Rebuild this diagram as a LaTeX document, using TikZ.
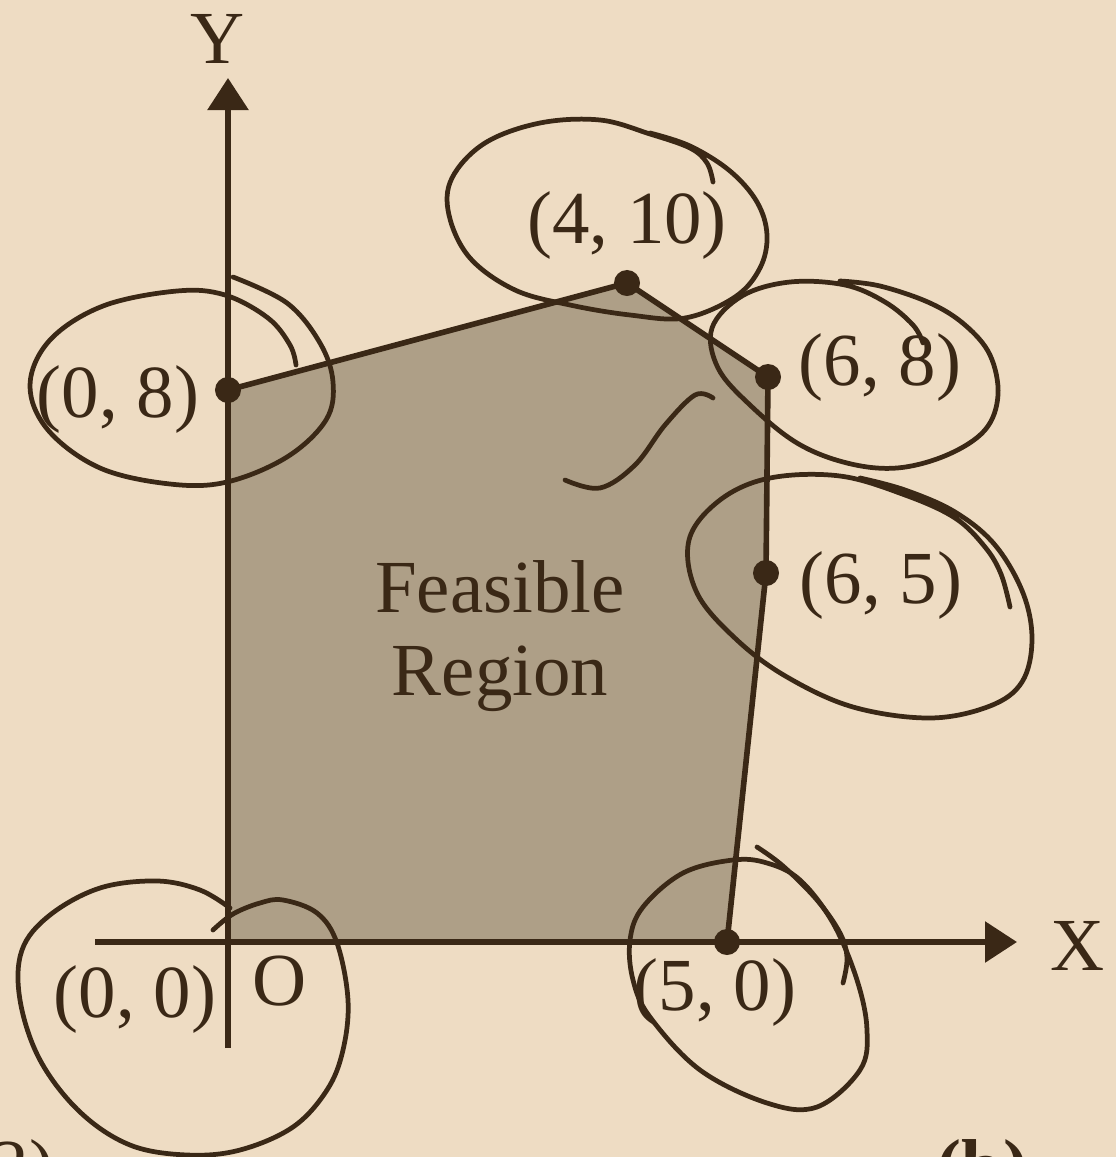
\documentclass[tikz,border=0pt]{standalone}
\usepackage{fontspec}
\setmainfont{Liberation Serif}
\usetikzlibrary{arrows.meta}
\definecolor{bg}{HTML}{EEDCC3}
\definecolor{regionfill}{HTML}{AE9F87}
\definecolor{ink}{HTML}{3A2816}
\tikzset{
  axisline/.style={ink, line width=1.6pt, -{Triangle[length=9.1pt,width=11.4pt]}},
  edgeline/.style={ink, line width=1.6pt, line join=round},
  penstroke/.style={ink, line width=1.35pt, line cap=round, line join=round},
  vertexdot/.style={circle, fill=ink, inner sep=0pt, minimum size=0.26cm},
  lbl/.style={text=ink, inner sep=0pt, font=\fontsize{21.3}{25}\selectfont},
}
\begin{document}
\begin{tikzpicture}[x=0.01cm, y=-0.01cm]
\useasboundingbox (0,0) rectangle (1116,1157);
\fill[bg] (0,0) rectangle (1116,1157);

% vertices
\coordinate (p00) at (228,942);
\coordinate (p08) at (228,390);
\coordinate (p410) at (627,283);
\coordinate (p68) at (768,377);
\coordinate (p65) at (766,573);
\coordinate (p50) at (727,942);

% feasible region
\fill[regionfill] (p00) -- (p08) -- (p410) -- (p68) -- (p65) -- (p50) -- cycle;

% axes
\coordinate (ybot) at (228,1048);
\coordinate (ytop) at (228,78);
\coordinate (xleft) at (95,942);
\coordinate (xright) at (1017,942);
\draw[axisline] (ybot) -- (ytop);
\draw[axisline] (xleft) -- (xright);

% boundary edges
\draw[edgeline] (p08) -- (p410) -- (p68) -- (p65) -- (p50);

% dots
\node[vertexdot] (d08) at (p08) {};
\node[vertexdot] (d410) at (p410) {};
\node[vertexdot] (d68) at (p68) {};
\node[vertexdot] (d65) at (p65) {};
\node[vertexdot] (d50) at (p50) {};

% labels
\node[lbl, anchor=base] (ly) at (218,63) {Y};
\node[lbl, anchor=base] (lx) at (1078,970) {X};
\node[lbl, anchor=base] (lo) at (280,1005) {O};
\node[lbl, anchor=base] (l00) at (135,1017) {(0, 0)};
\node[lbl, anchor=base] (l08) at (118,417) {(0, 8)};
\node[lbl, anchor=base] (l410) at (627,243) {(4, 10)};
\node[lbl, anchor=base] (l68) at (880,385) {(6, 8)};
\node[lbl, anchor=base] (l65) at (881,603) {(6, 5)};
\node[lbl, anchor=base] (l50) at (715,1010) {(5, 0)};
\node[lbl, anchor=base] (lfeas) at (500,612) {Feasible};
\node[lbl, anchor=base] (lreg) at (500,695) {Region};

% text of the next line, cut off at the bottom edge as in the reference
\begin{scope}
\clip (0,0) rectangle (1116,1157);
\node[lbl, anchor=base east] (lcut1) at (55,1191) {2)};
\node[lbl, anchor=base west, font=\fontsize{21.3}{25}\selectfont\bfseries] (lcut2) at (936,1191) {(b)};
\end{scope}

% handwritten annotations
% (0,0)
\draw[penstroke] plot[smooth, tension=0.6] coordinates {
 (213,930) (233,914) (260,903) (283,900) (317,913) (337,943) (348,1000)
 (343,1050) (327,1090) (293,1127) (240,1150) (187,1155) (130,1145)
 (80,1112) (40,1060) (20,1000) (22,950) (50,915) (100,888) (157,881)
 (200,890) (230,908)};
% (0,8)
\draw[penstroke] plot[smooth, tension=0.6] coordinates {
 (233,277) (287,303) (320,343) (333,382) (326,420) (287,457) (227,482)
 (170,484) (100,468) (48,430) (30,385) (50,340) (103,306) (177,291)
 (225,295) (268,318) (290,345) (296,365)};
% (4,10)
\draw[penstroke] plot[smooth, tension=0.6] coordinates {
 (713,182) (707,163) (690,148) (650,134) (600,120) (540,123) (485,143)
 (452,178) (449,215) (470,258) (515,290) (570,305) (630,315) (685,318)
 (735,297) (760,268) (767,235) (757,202) (730,171) (690,146) (650,133)};
% (6,8)
\draw[penstroke] plot[smooth, tension=0.6] coordinates {
 (923,343) (913,325) (885,302) (845,285) (790,282) (742,296) (712,328)
 (718,368) (750,405) (797,443) (847,463) (897,468) (947,455) (985,430)
 (998,395) (990,355) (965,325) (930,303) (880,286) (840,281)};
% (6,5)
\draw[penstroke] plot[smooth, tension=0.6] coordinates {
 (1010,607) (1001,574) (985,547) (955,518) (905,495) (840,476) (770,478)
 (720,500) (689,540) (697,593) (737,640) (787,677) (853,707) (930,718)
 (990,706) (1022,682) (1032,640) (1023,593) (995,545) (955,512)
 (905,490) (860,478)};
% (5,0)
\draw[penstroke] plot[smooth cycle, tension=0.6] coordinates {
 (733,860) (683,873) (643,907) (630,940) (633,980) (650,1017) (700,1070)
 (767,1103) (817,1107) (860,1070) (867,1030) (857,980) (833,923)
 (800,880) (767,863)};
\draw[penstroke] plot[smooth, tension=0.6] coordinates {
 (757,847) (783,866) (817,900) (840,933) (847,958) (843,983)};
% squiggle
\draw[penstroke] plot[smooth, tension=0.6] coordinates {
 (565,480) (600,488) (635,465) (665,425) (695,395) (713,398)};
\end{tikzpicture}
\end{document}
